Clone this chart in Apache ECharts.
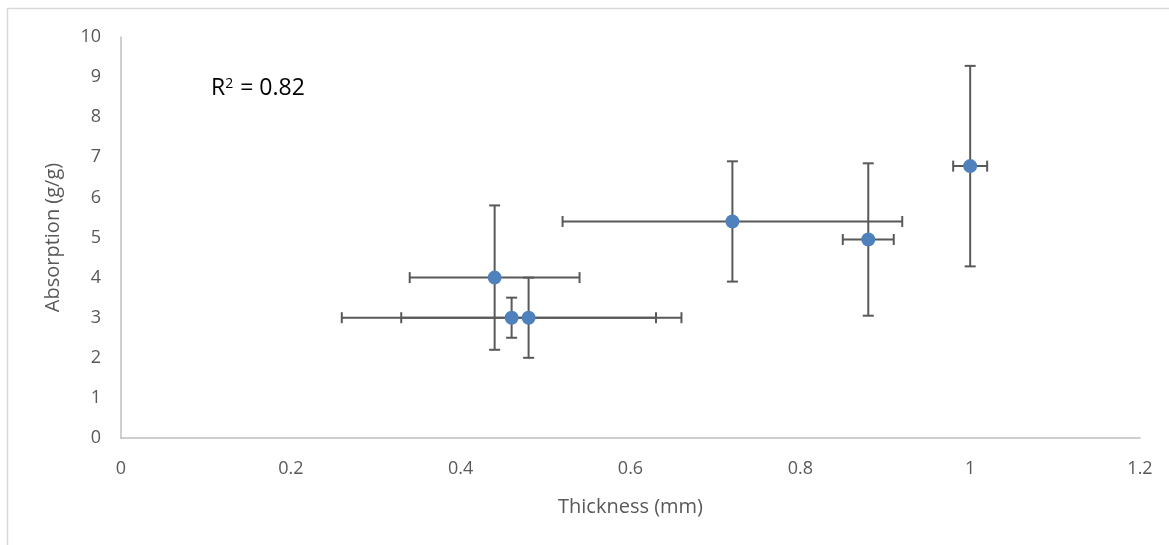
<!DOCTYPE html>
<html>
<head>
<meta charset="utf-8">
<script src="https://cdn.jsdelivr.net/npm/echarts@6/dist/echarts.min.js"></script>
<style>html,body{margin:0;padding:0;background:#fff;}#c{width:1169px;height:545px;}</style>
</head>
<body>
<div id="c"></div>
<script>
// Data
const thickness = [0.44, 0.46, 0.48, 0.72, 0.88, 1.00];
const absorption = [4.0, 3.0, 3.0, 5.4, 4.95, 6.78];
const thicknessErr = [0.10, 0.20, 0.15, 0.20, 0.03, 0.02];
const absorptionErr = [1.8, 0.5, 1.0, 1.5, 1.9, 2.5];
const xTicks = [0, 0.2, 0.4, 0.6, 0.8, 1, 1.2];
const yTicks = [0, 1, 2, 3, 4, 5, 6, 7, 8, 9, 10];
const rSquaredText = '0.82';

const FONT = 'Open Sans';
const points = thickness.map((x, i) => [x, absorption[i]]);
const errRows = thickness.map((x, i) => [x, absorption[i], thicknessErr[i], absorptionErr[i]]);

const chart = echarts.init(document.getElementById('c'));
const CAP = 5.5;
chart.setOption({
  animation: false,
  backgroundColor: '#fff',
  grid: { left: 121, right: 29, top: 37, bottom: 107, containLabel: false },
  graphic: [
    { type: 'rect', silent: true, z: -10,
      shape: { x: 7.5, y: 8.5, width: 1300, height: 700 },
      style: { fill: 'none', stroke: '#d9d9d9', lineWidth: 1.5 } },
    { type: 'text', left: 211, top: 77, silent: true,
      style: { text: 'R{s|2} = ' + rSquaredText, fill: '#000', font: '23px "' + FONT + '"',
        rich: { s: { fontSize: 14, verticalAlign: 'top', fill: '#000', fontFamily: FONT, padding: [0, 1, 7, 0] } } } }
  ],
  xAxis: {
    type: 'value', min: xTicks[0], max: xTicks[xTicks.length - 1], interval: 0.2,
    name: 'Thickness (mm)', nameLocation: 'middle', nameGap: 59,
    nameTextStyle: { color: '#595959', fontSize: 20, fontFamily: FONT },
    axisLine: { show: true, lineStyle: { color: '#bfbfbf', width: 1.5 } },
    axisTick: { show: false }, splitLine: { show: false },
    axisLabel: { color: '#595959', fontSize: 18, fontFamily: FONT, margin: 22,
      formatter: v => String(+v.toFixed(1)) }
  },
  yAxis: {
    type: 'value', min: yTicks[0], max: yTicks[yTicks.length - 1], interval: 1,
    name: 'Absorption (g/g)', nameLocation: 'middle', nameGap: 58, nameRotate: 90,
    nameTextStyle: { color: '#595959', fontSize: 20, fontFamily: FONT },
    axisLine: { show: true, lineStyle: { color: '#bfbfbf', width: 1.5 } },
    axisTick: { show: false }, splitLine: { show: false },
    axisLabel: { color: '#595959', fontSize: 18, fontFamily: FONT, margin: 20 }
  },
  series: [
    {
      type: 'custom', z: 1,
      data: errRows,
      renderItem: function (params, api) {
        const x = api.value(0), y = api.value(1), ex = api.value(2), ey = api.value(3);
        const pTop = api.coord([x, y + ey]);
        const pBot = api.coord([x, y - ey]);
        const pL = api.coord([x - ex, y]);
        const pR = api.coord([x + ex, y]);
        const st = { stroke: '#595959', lineWidth: 2 };
        const L = (x1, y1, x2, y2) => ({ type: 'line', shape: { x1, y1, x2, y2 }, style: st });
        return { type: 'group', children: [
          L(pTop[0], pTop[1], pBot[0], pBot[1]),
          L(pTop[0] - CAP, pTop[1], pTop[0] + CAP, pTop[1]),
          L(pBot[0] - CAP, pBot[1], pBot[0] + CAP, pBot[1]),
          L(pL[0], pL[1], pR[0], pR[1]),
          L(pL[0], pL[1] - CAP, pL[0], pL[1] + CAP),
          L(pR[0], pR[1] - CAP, pR[0], pR[1] + CAP)
        ] };
      }
    },
    {
      type: 'scatter', z: 5, data: points, symbol: 'circle', symbolSize: 14,
      itemStyle: { color: '#4f81bd', opacity: 1 }
    }
  ]
});
</script>
</body>
</html>
